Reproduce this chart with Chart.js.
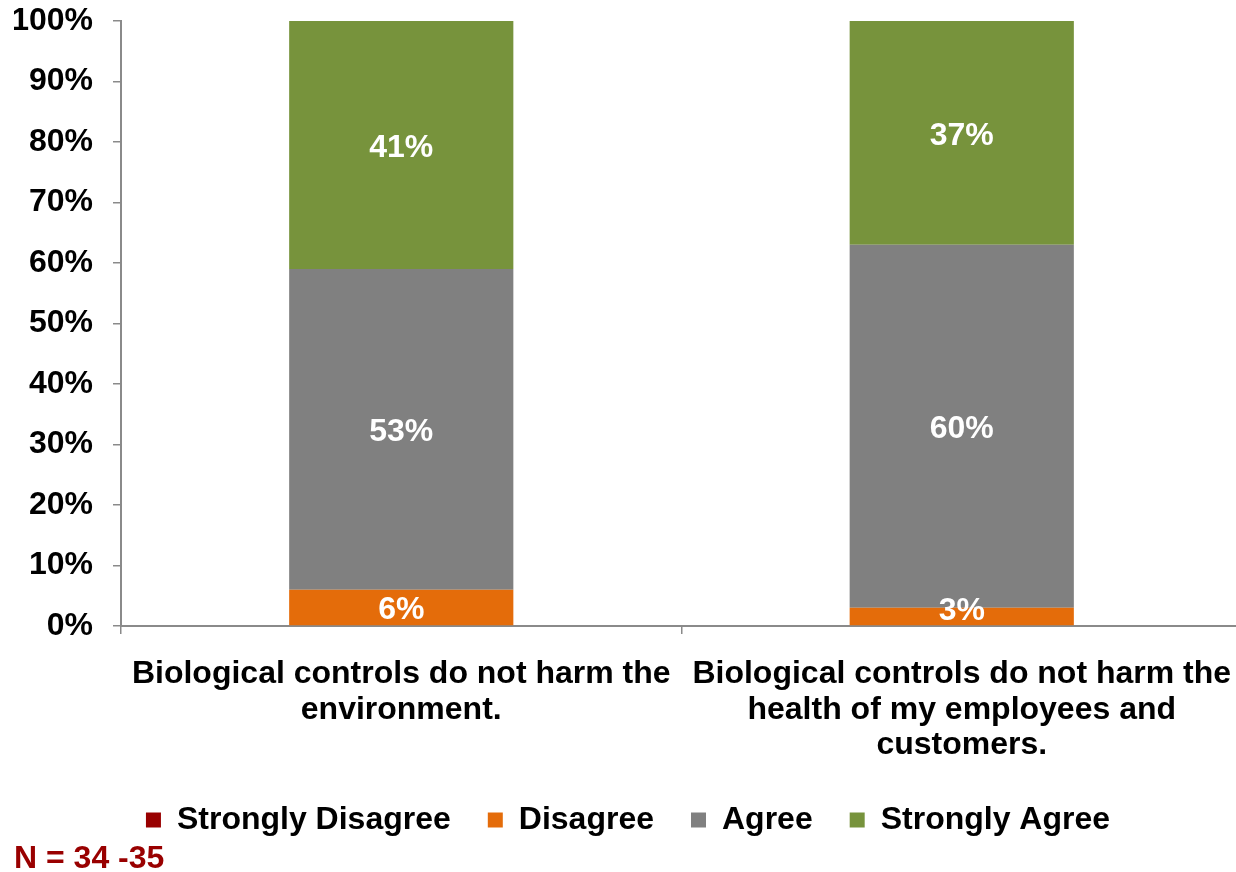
<!DOCTYPE html>
<html>
<head>
<meta charset="utf-8">
<script src="https://cdn.jsdelivr.net/npm/chart.js@4/dist/chart.umd.min.js"></script>
<style>
  html, body { margin: 0; padding: 0; background: #fff; overflow: hidden; }
  #frame { width: 1236px; height: 872px; overflow: hidden; }
  #wrap { width: 1242px; height: 872px; position: relative; }
</style>
</head>
<body>
<div id="frame"><div id="wrap"><canvas id="surveyChart"></canvas></div></div>
<script>
// survey statements (multi-line category labels)
const statements = [
  ["Biological controls do not harm the", "environment."],
  ["Biological controls do not harm the", "health of my employees and", "customers."]
];

const stronglyDisagree = [0, 0];
const disagree = [6, 3];
const agree = [53, 60];
const stronglyAgree = [41, 37];

const yTicks = [0, 10, 20, 30, 40, 50, 60, 70, 80, 90, 100];
const sampleNote = "N = 34 -35";

const FONT = "'Liberation Sans', Arial, sans-serif";
const axisGray = "#8a8a8a";

// writes the % value in the middle of every non-empty segment
const segmentLabels = {
  id: "segmentLabels",
  afterDatasetsDraw(chart) {
    const ctx = chart.ctx;
    const bottom = chart.chartArea.bottom;
    ctx.save();
    ctx.font = "bold 32px " + FONT;
    ctx.fillStyle = "#ffffff";
    ctx.textAlign = "center";
    ctx.textBaseline = "middle";
    chart.data.datasets.forEach((ds, i) => {
      const meta = chart.getDatasetMeta(i);
      if (meta.hidden) return;
      meta.data.forEach((bar, j) => {
        const v = ds.data[j];
        if (!v) return;
        let y = (bar.y + bar.base) / 2 + 3;
        if (y > bottom - 15) y = bottom - 15;
        ctx.fillText(v + "%", bar.x, y);
      });
    });
    ctx.restore();
  }
};

const ctx = document.getElementById("surveyChart").getContext("2d");
new Chart(ctx, {
  type: "bar",
  data: {
    labels: statements,
    datasets: [
      { label: "Strongly Disagree", data: stronglyDisagree, backgroundColor: "#990000" },
      { label: "Disagree", data: disagree, backgroundColor: "#e46c0a" },
      { label: "Agree", data: agree, backgroundColor: "#808080" },
      { label: "Strongly Agree", data: stronglyAgree, backgroundColor: "#77933c" }
    ]
  },
  options: {
    responsive: true,
    maintainAspectRatio: false,
    animation: false,
    layout: { padding: { left: 14, right: 0, top: 0, bottom: 0 } },
    datasets: {
      bar: { categoryPercentage: 1, barPercentage: 0.4, borderWidth: 0 }
    },
    scales: {
      x: {
        stacked: true,
        afterFit(scale) {
          scale.height = 141;
          scale.paddingLeft = 0;
          scale.paddingRight = 0;
        },
        border: { color: axisGray, width: 2 },
        grid: { offset: true, drawOnChartArea: false, drawTicks: true, tickLength: 8, color: axisGray, lineWidth: 1.5 },
        ticks: {
          color: "#000",
          padding: 23,
          maxRotation: 0,
          autoSkip: false,
          font: { family: FONT, size: 32, weight: "bold", lineHeight: 1.1 }
        }
      },
      y: {
        stacked: true,
        min: 0,
        max: 100,
        afterFit(scale) {
          scale.width = 107;
          scale.paddingTop = 21;
          scale.paddingBottom = 0;
        },
        afterBuildTicks(scale) { scale.ticks = yTicks.map(v => ({ value: v })); },
        border: { color: axisGray, width: 2 },
        grid: { drawOnChartArea: false, drawTicks: true, tickLength: 8, color: axisGray, lineWidth: 1.5 },
        ticks: {
          color: "#000",
          padding: 20,
          callback: v => v + "%",
          font: { family: FONT, size: 32, weight: "bold" }
        }
      }
    },
    plugins: {
      legend: {
        position: "bottom",
        labels: {
          color: "#000",
          boxWidth: 15,
          boxHeight: 15,
          padding: 37,
          font: { family: FONT, size: 32, weight: "bold" }
        }
      },
      title: {
        display: true,
        text: sampleNote,
        position: "bottom",
        align: "start",
        color: "#990000",
        padding: { top: 1, bottom: 1 },
        font: { family: FONT, size: 32, weight: "bold", lineHeight: 0.75 }
      },
      tooltip: { enabled: false }
    }
  },
  plugins: [segmentLabels]
});
</script>
</body>
</html>
